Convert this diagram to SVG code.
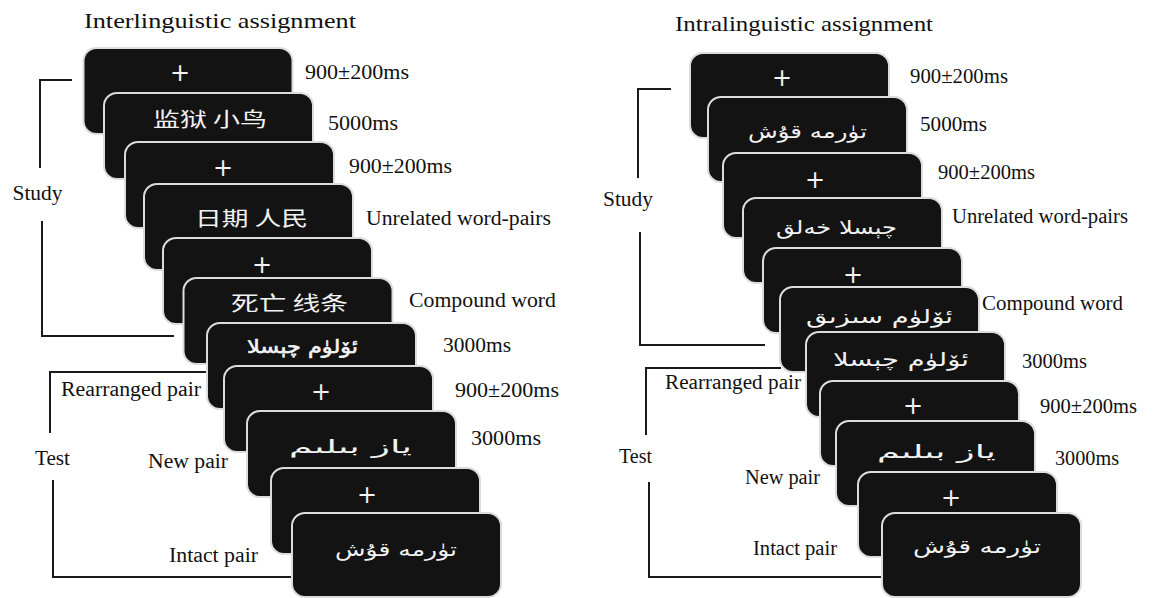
<svg xmlns="http://www.w3.org/2000/svg" width="1169" height="598" viewBox="0 0 1169 598">
<style>
.bg{fill:#ffffff}
.card{fill:#131313;stroke:#dcdcdc;stroke-width:2}
.br{fill:none;stroke:#1a1a1a;stroke-width:2}
.lab{font-family:"Liberation Serif","Times New Roman",serif;font-size:20px;fill:#111}
.ttl{font-family:"Liberation Serif","Times New Roman",serif;font-size:22px;fill:#111}
.plus{font-family:"DejaVu Sans",sans-serif;font-size:24px;fill:#f2f2f2;text-anchor:middle}
.cjk{font-family:"Noto Sans CJK SC","Noto Sans CJK JP",sans-serif;font-size:20px;fill:#f2f2f2}
.ug{font-family:"DejaVu Sans",sans-serif;font-size:19px;fill:#f2f2f2;text-anchor:middle}
.ugb{stroke:#f2f2f2;stroke-width:0.6}
</style>
<rect class="bg" x="0" y="0" width="1169" height="598"/>

<text class="ttl" x="84" y="28" textLength="272" lengthAdjust="spacingAndGlyphs">Interlinguistic assignment</text>
<text class="ttl" x="675" y="31" textLength="258" lengthAdjust="spacingAndGlyphs">Intralinguistic assignment</text>

<g id="connectors">
<path class="br" d="M72,80 H40 V168"/>
<path class="br" d="M42,221 V336 H174"/>
<path class="br" d="M207,372 H50 V433"/>
<path class="br" d="M53,480 V577 H292"/>
<path class="br" d="M671,89 H638 V178"/>
<path class="br" d="M640,232 V345 H765"/>
<path class="br" d="M781,368 H646 V435"/>
<path class="br" d="M649,482 V577 H882"/>
</g>

<g id="left-labels">
<text class="lab" x="12.5" y="200" textLength="50" lengthAdjust="spacingAndGlyphs">Study</text>
<text class="lab" x="61" y="396" textLength="140" lengthAdjust="spacingAndGlyphs">Rearranged pair</text>
<text class="lab" x="35" y="465" textLength="35" lengthAdjust="spacingAndGlyphs">Test</text>
<text class="lab" x="148" y="468" textLength="80" lengthAdjust="spacingAndGlyphs">New pair</text>
<text class="lab" x="169" y="562" textLength="89" lengthAdjust="spacingAndGlyphs">Intact pair</text>
<text class="lab" x="305" y="79" textLength="104" lengthAdjust="spacingAndGlyphs">900±200ms</text>
<text class="lab" x="328" y="130" textLength="70" lengthAdjust="spacingAndGlyphs">5000ms</text>
<text class="lab" x="349" y="173" textLength="103" lengthAdjust="spacingAndGlyphs">900±200ms</text>
<text class="lab" x="366" y="225" textLength="185" lengthAdjust="spacingAndGlyphs">Unrelated word-pairs</text>
<text class="lab" x="409" y="307" textLength="147" lengthAdjust="spacingAndGlyphs">Compound word</text>
<text class="lab" x="443" y="352" textLength="68" lengthAdjust="spacingAndGlyphs">3000ms</text>
<text class="lab" x="455" y="397" textLength="104" lengthAdjust="spacingAndGlyphs">900±200ms</text>
<text class="lab" x="471" y="445" textLength="70" lengthAdjust="spacingAndGlyphs">3000ms</text>
</g>

<g id="right-labels">
<text class="lab" x="603" y="206" textLength="50" lengthAdjust="spacingAndGlyphs">Study</text>
<text class="lab" x="665" y="389" textLength="136" lengthAdjust="spacingAndGlyphs">Rearranged pair</text>
<text class="lab" x="619" y="463" textLength="33" lengthAdjust="spacingAndGlyphs">Test</text>
<text class="lab" x="745" y="484" textLength="75" lengthAdjust="spacingAndGlyphs">New pair</text>
<text class="lab" x="753" y="555" textLength="84" lengthAdjust="spacingAndGlyphs">Intact pair</text>
<text class="lab" x="910" y="83" textLength="98" lengthAdjust="spacingAndGlyphs">900±200ms</text>
<text class="lab" x="920" y="131" textLength="67" lengthAdjust="spacingAndGlyphs">5000ms</text>
<text class="lab" x="938" y="179" textLength="97" lengthAdjust="spacingAndGlyphs">900±200ms</text>
<text class="lab" x="952" y="223" textLength="176" lengthAdjust="spacingAndGlyphs">Unrelated word-pairs</text>
<text class="lab" x="982" y="310" textLength="141" lengthAdjust="spacingAndGlyphs">Compound word</text>
<text class="lab" x="1022" y="368" textLength="65" lengthAdjust="spacingAndGlyphs">3000ms</text>
<text class="lab" x="1040" y="413" textLength="97" lengthAdjust="spacingAndGlyphs">900±200ms</text>
<text class="lab" x="1055" y="465" textLength="64" lengthAdjust="spacingAndGlyphs">3000ms</text>
</g>

<g id="L1"><rect class="card" x="83.5" y="48" width="209" height="86" rx="13"/><text class="plus" x="180" y="81">+</text></g>
<g id="L2"><rect class="card" x="104" y="93" width="209" height="86" rx="13"/><text class="cjk" x="153" y="127" textLength="114" lengthAdjust="spacingAndGlyphs">监狱 小鸟</text></g>
<g id="L3"><rect class="card" x="125" y="142" width="209" height="86" rx="13"/><text class="plus" x="223" y="176">+</text></g>
<g id="L4"><rect class="card" x="144" y="184" width="209" height="86" rx="13"/><text class="cjk" x="195" y="226" textLength="113" lengthAdjust="spacingAndGlyphs">日期 人民</text></g>
<g id="L5"><rect class="card" x="163" y="238" width="209" height="86" rx="13"/><text class="plus" x="262" y="273">+</text></g>
<g id="L6"><rect class="card" x="183.5" y="278" width="209" height="86" rx="13"/><text class="cjk" x="231" y="311" textLength="117" lengthAdjust="spacingAndGlyphs">死亡 线条</text></g>
<g id="L7"><rect class="card" x="207" y="323" width="209" height="86" rx="13"/><text class="ug ugb" x="302.5" y="353" textLength="111" lengthAdjust="spacingAndGlyphs">ئۆلۈم چېسلا</text></g>
<g id="L8"><rect class="card" x="224" y="366" width="209" height="86" rx="13"/><text class="plus" x="321" y="400">+</text></g>
<g id="L9"><rect class="card" x="247" y="411" width="209" height="86" rx="13"/><text class="ug" x="350.5" y="453" textLength="123" lengthAdjust="spacingAndGlyphs">ياز بىلىم</text></g>
<g id="L10"><rect class="card" x="271" y="468" width="209" height="86" rx="13"/><text class="plus" x="367" y="503">+</text></g>
<g id="L11"><rect class="card" x="292" y="513" width="209" height="84" rx="13"/><text class="ug" x="396" y="556" textLength="122" lengthAdjust="spacingAndGlyphs">تۈرمە قۇش</text></g>

<g id="R1"><rect class="card" x="690" y="53" width="199" height="85" rx="13"/><text class="plus" x="782" y="86">+</text></g>
<g id="R2"><rect class="card" x="708" y="97" width="199" height="85" rx="13"/><text class="ug" x="807.5" y="138" textLength="119" lengthAdjust="spacingAndGlyphs">تۈرمە قۇش</text></g>
<g id="R3"><rect class="card" x="723" y="153" width="199" height="85" rx="13"/><text class="plus" x="815" y="188">+</text></g>
<g id="R4"><rect class="card" x="743" y="198" width="199" height="85" rx="13"/><text class="ug" x="836.5" y="234" textLength="121" lengthAdjust="spacingAndGlyphs">چېسلا خەلق</text></g>
<g id="R5"><rect class="card" x="763" y="248" width="199" height="85" rx="13"/><text class="plus" x="853" y="283">+</text></g>
<g id="R6"><rect class="card" x="780" y="287" width="199" height="85" rx="13"/><text class="ug" x="879.5" y="323" textLength="147" lengthAdjust="spacingAndGlyphs">ئۆلۈم سىزىق</text></g>
<g id="R7"><rect class="card" x="806" y="332" width="199" height="85" rx="13"/><text class="ug" x="901" y="366" textLength="136" lengthAdjust="spacingAndGlyphs">ئۆلۈم چېسلا</text></g>
<g id="R8"><rect class="card" x="820" y="381" width="199" height="85" rx="13"/><text class="plus" x="913" y="414">+</text></g>
<g id="R9"><rect class="card" x="836" y="421" width="199" height="85" rx="13"/><text class="ug" x="936.5" y="458" textLength="119" lengthAdjust="spacingAndGlyphs">ياز بىلىم</text></g>
<g id="R10"><rect class="card" x="858" y="472" width="199" height="85" rx="13"/><text class="plus" x="951" y="506">+</text></g>
<g id="R11"><rect class="card" x="882" y="513" width="199" height="84" rx="13"/><text class="ug" x="977" y="553" textLength="128" lengthAdjust="spacingAndGlyphs">تۈرمە قۇش</text></g>
</svg>
